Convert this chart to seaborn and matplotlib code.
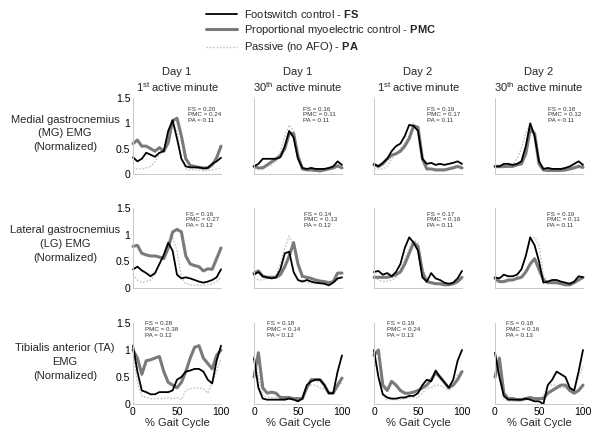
import numpy as np
import pandas as pd
import matplotlib
matplotlib.use("Agg")
import matplotlib.pyplot as plt
import seaborn as sns
from matplotlib.lines import Line2D

sns.set_theme(style="white")
plt.rcParams["font.family"] = ["Liberation Sans", "DejaVu Sans"]
plt.rcParams["mathtext.fontset"] = "custom"
plt.rcParams["mathtext.rm"] = "Liberation Sans"
plt.rcParams["mathtext.bf"] = "Liberation Sans:bold"
plt.rcParams["mathtext.it"] = "Liberation Sans:italic"

# ---------------- data ----------------
gait_pct = [0, 5, 10, 15, 20, 25, 30, 35, 40, 45, 50, 55, 60, 65, 70, 75, 80, 85, 90, 95, 100]

muscle_labels = [["Medial gastrocnemius", "(MG) EMG", "(Normalized)"],
                 ["Lateral gastrocnemius", "(LG) EMG", "(Normalized)"],
                 ["Tibialis anterior (TA)", "EMG", "(Normalized)"]]
session_days = ["Day 1", "Day 1", "Day 2", "Day 2"]
session_minutes = ["1", "30", "1", "30"]
session_suffix = ["st", "th", "st", "th"]
conditions = ["PA", "PMC", "FS"]
legend_labels = ["Footswitch control - $\\mathbf{FS}$",
                 "Proportional myoelectric control - $\\mathbf{PMC}$",
                 "Passive (no AFO) - $\\mathbf{PA}$"]

# MG, Day 1, 1st minute
mg_d1_m1_fs  = [0.33, 0.25, 0.30, 0.42, 0.38, 0.34, 0.42, 0.45, 0.85, 1.06, 0.70, 0.30, 0.15, 0.13, 0.13, 0.13, 0.11, 0.12, 0.20, 0.25, 0.32]
mg_d1_m1_pmc = [0.60, 0.67, 0.55, 0.55, 0.50, 0.45, 0.52, 0.45, 0.62, 1.05, 1.10, 0.75, 0.30, 0.17, 0.15, 0.13, 0.12, 0.12, 0.18, 0.32, 0.55]
mg_d1_m1_pa  = [0.12, 0.10, 0.10, 0.12, 0.15, 0.25, 0.38, 0.50, 0.80, 1.02, 0.85, 0.30, 0.10, 0.08, 0.08, 0.07, 0.06, 0.07, 0.08, 0.10, 0.12]
# MG, Day 1, 30th minute
mg_d1_m30_fs  = [0.15, 0.20, 0.30, 0.30, 0.30, 0.30, 0.33, 0.55, 0.85, 0.72, 0.30, 0.12, 0.10, 0.12, 0.10, 0.10, 0.10, 0.12, 0.15, 0.25, 0.18]
mg_d1_m30_pmc = [0.15, 0.12, 0.12, 0.18, 0.24, 0.30, 0.36, 0.50, 0.80, 0.80, 0.35, 0.10, 0.08, 0.08, 0.07, 0.06, 0.08, 0.10, 0.12, 0.16, 0.12]
mg_d1_m30_pa  = [0.10, 0.10, 0.12, 0.15, 0.18, 0.25, 0.45, 0.75, 0.97, 0.85, 0.35, 0.10, 0.08, 0.08, 0.08, 0.08, 0.09, 0.10, 0.12, 0.20, 0.15]
# MG, Day 2, 1st minute
mg_d2_m1_fs  = [0.20, 0.15, 0.22, 0.30, 0.45, 0.55, 0.60, 0.75, 0.97, 0.95, 0.85, 0.30, 0.20, 0.22, 0.18, 0.20, 0.18, 0.20, 0.22, 0.25, 0.20]
mg_d2_m1_pmc = [0.18, 0.15, 0.20, 0.30, 0.37, 0.40, 0.45, 0.55, 0.70, 0.95, 0.92, 0.30, 0.10, 0.10, 0.08, 0.08, 0.08, 0.10, 0.12, 0.15, 0.12]
mg_d2_m1_pa  = [0.10, 0.10, 0.10, 0.15, 0.30, 0.40, 0.50, 0.60, 0.75, 1.00, 0.85, 0.30, 0.12, 0.10, 0.10, 0.10, 0.10, 0.12, 0.15, 0.17, 0.18]
# MG, Day 2, 30th minute
mg_d2_m30_fs  = [0.15, 0.15, 0.20, 0.20, 0.18, 0.20, 0.25, 0.55, 1.00, 0.75, 0.25, 0.10, 0.12, 0.10, 0.10, 0.10, 0.12, 0.15, 0.20, 0.25, 0.18]
mg_d2_m30_pmc = [0.15, 0.15, 0.15, 0.15, 0.15, 0.18, 0.20, 0.40, 0.88, 0.80, 0.20, 0.08, 0.07, 0.07, 0.07, 0.07, 0.08, 0.10, 0.12, 0.15, 0.13]
mg_d2_m30_pa  = [0.12, 0.12, 0.12, 0.15, 0.18, 0.30, 0.50, 0.80, 1.00, 0.80, 0.30, 0.10, 0.08, 0.08, 0.08, 0.09, 0.10, 0.15, 0.15, 0.18, 0.15]

# LG, Day 1, 1st minute
lg_d1_m1_fs  = [0.35, 0.40, 0.33, 0.28, 0.22, 0.28, 0.45, 0.62, 0.85, 0.70, 0.25, 0.18, 0.20, 0.18, 0.15, 0.12, 0.10, 0.12, 0.15, 0.20, 0.35]
lg_d1_m1_pmc = [0.78, 0.80, 0.65, 0.62, 0.60, 0.60, 0.58, 0.55, 0.75, 1.05, 1.10, 1.05, 0.60, 0.45, 0.42, 0.40, 0.32, 0.36, 0.35, 0.55, 0.75]
lg_d1_m1_pa  = [0.25, 0.15, 0.10, 0.12, 0.15, 0.25, 0.45, 0.65, 0.85, 0.95, 0.70, 0.20, 0.08, 0.06, 0.05, 0.05, 0.05, 0.06, 0.08, 0.12, 0.20]
# LG, Day 1, 30th minute
lg_d1_m30_fs  = [0.25, 0.30, 0.22, 0.20, 0.18, 0.20, 0.35, 0.65, 0.68, 0.30, 0.15, 0.12, 0.15, 0.12, 0.10, 0.09, 0.08, 0.05, 0.10, 0.18, 0.20]
lg_d1_m30_pmc = [0.28, 0.32, 0.22, 0.20, 0.20, 0.20, 0.25, 0.40, 0.60, 0.85, 0.45, 0.22, 0.20, 0.18, 0.15, 0.13, 0.12, 0.10, 0.12, 0.28, 0.28]
lg_d1_m30_pa  = [0.20, 0.15, 0.15, 0.17, 0.20, 0.25, 0.45, 0.75, 0.97, 0.80, 0.40, 0.15, 0.10, 0.09, 0.08, 0.08, 0.08, 0.09, 0.10, 0.15, 0.20]
# LG, Day 2, 1st minute
lg_d2_m1_fs  = [0.30, 0.32, 0.25, 0.28, 0.22, 0.30, 0.45, 0.75, 0.95, 0.85, 0.70, 0.20, 0.12, 0.28, 0.18, 0.15, 0.10, 0.08, 0.10, 0.18, 0.32]
lg_d2_m1_pmc = [0.20, 0.20, 0.20, 0.20, 0.22, 0.25, 0.30, 0.45, 0.65, 0.85, 0.78, 0.30, 0.12, 0.10, 0.08, 0.08, 0.06, 0.06, 0.08, 0.12, 0.20]
lg_d2_m1_pa  = [0.20, 0.15, 0.12, 0.13, 0.15, 0.20, 0.35, 0.55, 0.75, 0.90, 0.85, 0.40, 0.15, 0.10, 0.08, 0.06, 0.05, 0.06, 0.08, 0.12, 0.20]
# LG, Day 2, 30th minute
lg_d2_m30_fs  = [0.20, 0.18, 0.25, 0.22, 0.22, 0.25, 0.35, 0.60, 0.95, 0.80, 0.50, 0.10, 0.12, 0.15, 0.15, 0.12, 0.10, 0.08, 0.12, 0.22, 0.20]
lg_d2_m30_pmc = [0.18, 0.12, 0.12, 0.15, 0.15, 0.18, 0.20, 0.30, 0.45, 0.55, 0.35, 0.15, 0.10, 0.10, 0.10, 0.08, 0.06, 0.06, 0.10, 0.15, 0.20]
lg_d2_m30_pa  = [0.12, 0.11, 0.10, 0.12, 0.15, 0.20, 0.35, 0.65, 0.90, 0.95, 0.80, 0.25, 0.10, 0.09, 0.08, 0.08, 0.08, 0.09, 0.10, 0.15, 0.20]

# TA, Day 1, 1st minute
ta_d1_m1_fs  = [1.08, 0.60, 0.25, 0.22, 0.18, 0.18, 0.22, 0.22, 0.22, 0.25, 0.45, 0.50, 0.60, 0.62, 0.65, 0.65, 0.60, 0.45, 0.38, 0.80, 1.08]
ta_d1_m1_pmc = [1.00, 0.85, 0.55, 0.80, 0.82, 0.85, 0.88, 0.60, 0.40, 0.35, 0.30, 0.40, 0.60, 0.85, 1.05, 1.08, 0.85, 0.75, 0.65, 0.90, 1.00]
ta_d1_m1_pa  = [0.95, 0.40, 0.15, 0.12, 0.10, 0.10, 0.10, 0.10, 0.12, 0.10, 0.12, 0.08, 0.25, 0.28, 0.30, 0.30, 0.28, 0.20, 0.40, 0.60, 0.85]
# TA, Day 1, 30th minute
ta_d1_m30_fs  = [0.85, 0.30, 0.10, 0.08, 0.08, 0.08, 0.08, 0.08, 0.10, 0.08, 0.05, 0.10, 0.35, 0.42, 0.45, 0.45, 0.35, 0.20, 0.20, 0.60, 0.90]
ta_d1_m30_pmc = [0.50, 0.95, 0.30, 0.20, 0.22, 0.20, 0.12, 0.12, 0.12, 0.10, 0.10, 0.10, 0.30, 0.45, 0.45, 0.45, 0.35, 0.20, 0.20, 0.35, 0.48]
ta_d1_m30_pa  = [0.90, 0.50, 0.15, 0.13, 0.12, 0.12, 0.12, 0.11, 0.10, 0.09, 0.08, 0.12, 0.30, 0.35, 0.35, 0.30, 0.28, 0.22, 0.20, 0.30, 0.40]
# TA, Day 2, 1st minute
ta_d2_m1_fs  = [1.00, 0.50, 0.18, 0.12, 0.10, 0.10, 0.12, 0.12, 0.15, 0.15, 0.20, 0.35, 0.45, 0.42, 0.62, 0.50, 0.40, 0.30, 0.45, 0.80, 1.00]
ta_d2_m1_pmc = [0.90, 1.00, 0.35, 0.25, 0.42, 0.35, 0.25, 0.20, 0.20, 0.22, 0.25, 0.30, 0.35, 0.45, 0.58, 0.50, 0.40, 0.30, 0.35, 0.45, 0.60]
ta_d2_m1_pa  = [0.85, 0.50, 0.15, 0.08, 0.08, 0.08, 0.08, 0.10, 0.12, 0.12, 0.12, 0.20, 0.30, 0.30, 0.35, 0.35, 0.30, 0.25, 0.35, 0.55, 0.60]
# TA, Day 2, 30th minute
ta_d2_m30_fs  = [0.95, 0.50, 0.15, 0.08, 0.08, 0.08, 0.08, 0.10, 0.08, 0.05, 0.05, 0.00, 0.35, 0.45, 0.60, 0.55, 0.50, 0.30, 0.25, 0.60, 1.00]
ta_d2_m30_pmc = [0.50, 0.85, 0.20, 0.10, 0.10, 0.08, 0.08, 0.10, 0.12, 0.10, 0.10, 0.10, 0.20, 0.25, 0.30, 0.35, 0.35, 0.25, 0.20, 0.25, 0.35]
ta_d2_m30_pa  = [0.90, 0.55, 0.10, 0.05, 0.05, 0.05, 0.05, 0.08, 0.10, 0.10, 0.10, 0.15, 0.35, 0.35, 0.35, 0.30, 0.30, 0.25, 0.25, 0.50, 0.70]

# annotation values (rows: MG, LG, TA; columns: sessions)
fs_vals  = [["0.20", "0.16", "0.19", "0.18"], ["0.16", "0.14", "0.17", "0.19"], ["0.28", "0.18", "0.19", "0.18"]]
pmc_vals = [["0.24", "0.11", "0.17", "0.12"], ["0.27", "0.13", "0.16", "0.11"], ["0.38", "0.14", "0.24", "0.16"]]
pa_vals  = [["0.11", "0.11", "0.11", "0.11"], ["0.12", "0.12", "0.11", "0.11"], ["0.12", "0.12", "0.13", "0.13"]]

panels = [
    [(mg_d1_m1_fs, mg_d1_m1_pmc, mg_d1_m1_pa), (mg_d1_m30_fs, mg_d1_m30_pmc, mg_d1_m30_pa),
     (mg_d2_m1_fs, mg_d2_m1_pmc, mg_d2_m1_pa), (mg_d2_m30_fs, mg_d2_m30_pmc, mg_d2_m30_pa)],
    [(lg_d1_m1_fs, lg_d1_m1_pmc, lg_d1_m1_pa), (lg_d1_m30_fs, lg_d1_m30_pmc, lg_d1_m30_pa),
     (lg_d2_m1_fs, lg_d2_m1_pmc, lg_d2_m1_pa), (lg_d2_m30_fs, lg_d2_m30_pmc, lg_d2_m30_pa)],
    [(ta_d1_m1_fs, ta_d1_m1_pmc, ta_d1_m1_pa), (ta_d1_m30_fs, ta_d1_m30_pmc, ta_d1_m30_pa),
     (ta_d2_m1_fs, ta_d2_m1_pmc, ta_d2_m1_pa), (ta_d2_m30_fs, ta_d2_m30_pmc, ta_d2_m30_pa)],
]

# ---------------- styling ----------------
styles = {
    "FS":  dict(color="#000000", lw=1.3, ls="-"),
    "PMC": dict(color="#7a7a7a", lw=2.2, ls="-"),
    "PA":  dict(color="#c4c4c4", lw=1.0, ls=(0, (1.2, 1.2))),
}
annot_pos = [[(63, 1.17), (56, 1.17), (60, 1.17), (60, 1.17)],
             [(60, 1.28), (57, 1.28), (60, 1.28), (59, 1.28)],
             [(14, 1.38), (15, 1.38), (15, 1.38), (13, 1.38)]]

W, H = 600, 440
fig = plt.figure(figsize=(W / 100, H / 100), dpi=100)

col_left = [133, 254, 374, 495]
col_w = 88
row_zero = [174, 288, 404]
row_h = [76, 80, 81]
spine_c = "#c8c8c8"

for r in range(3):
    for c in range(4):
        ax = fig.add_axes([col_left[c] / W, (H - row_zero[r]) / H, col_w / W, row_h[r] / H])
        fs, pmc, pa = panels[r][c]
        df = pd.DataFrame({"pct": gait_pct * 3,
                           "emg": pa + pmc + fs,
                           "cond": ["PA"] * len(gait_pct) + ["PMC"] * len(gait_pct) + ["FS"] * len(gait_pct)})
        for cond in conditions:
            st = styles[cond]
            sns.lineplot(data=df[df["cond"] == cond], x="pct", y="emg", ax=ax,
                         color=st["color"], lw=st["lw"], linestyle=st["ls"],
                         legend=False, clip_on=False)
        ax.set_xlim(0, 100)
        ax.set_ylim(0, 1.5)
        for s in ["top", "right"]:
            ax.spines[s].set_visible(False)
        for s in ["left", "bottom"]:
            ax.spines[s].set_color(spine_c)
            ax.spines[s].set_linewidth(0.7)
        ax.tick_params(axis="both", length=0, pad=2, labelsize=7.5, colors="#000000")
        ax.set_xticks([0, 50, 100])
        ax.set_yticks([0, 0.5, 1, 1.5])
        ax.set_yticklabels(["0", "0.5", "1", "1.5"])
        ax.set_xlabel("")
        ax.set_ylabel("")
        if c != 0:
            ax.set_yticklabels([])
        if r != 2:
            ax.set_xticklabels([])
        else:
            ax.set_xlabel("% Gait Cycle", fontsize=8, labelpad=1)
        if r == 0:
            ax.set_title(f"{session_days[c]}\n{session_minutes[c]}$^{{\\mathrm{{{session_suffix[c]}}}}}$ active minute",
                         fontsize=8, pad=4, linespacing=1.3)
        tx, ty = annot_pos[r][c]
        ax.text(tx, ty, f"FS = {fs_vals[r][c]}\nPMC = {pmc_vals[r][c]}\nPA = {pa_vals[r][c]}",
                fontsize=4.5, color="#333333", ha="left", va="center", linespacing=1.15)

row_line_y = [[120, 133, 147], [230, 244, 258], [348, 362, 376]]
for r in range(3):
    for line, yy in zip(muscle_labels[r], row_line_y[r]):
        fig.text(65 / W, 1 - yy / H, line, ha="center", va="center", fontsize=8)

handles = [Line2D([], [], color=styles[k]["color"], lw=styles[k]["lw"], linestyle=styles[k]["ls"])
           for k in ["FS", "PMC", "PA"]]
fig.legend(handles, legend_labels, loc="upper left", bbox_to_anchor=(0.33, 1.0),
           frameon=False, fontsize=8, handlelength=2.8, handletextpad=0.6,
           labelspacing=0.3, borderaxespad=0.3)

fig.savefig("out.png", dpi=100)
